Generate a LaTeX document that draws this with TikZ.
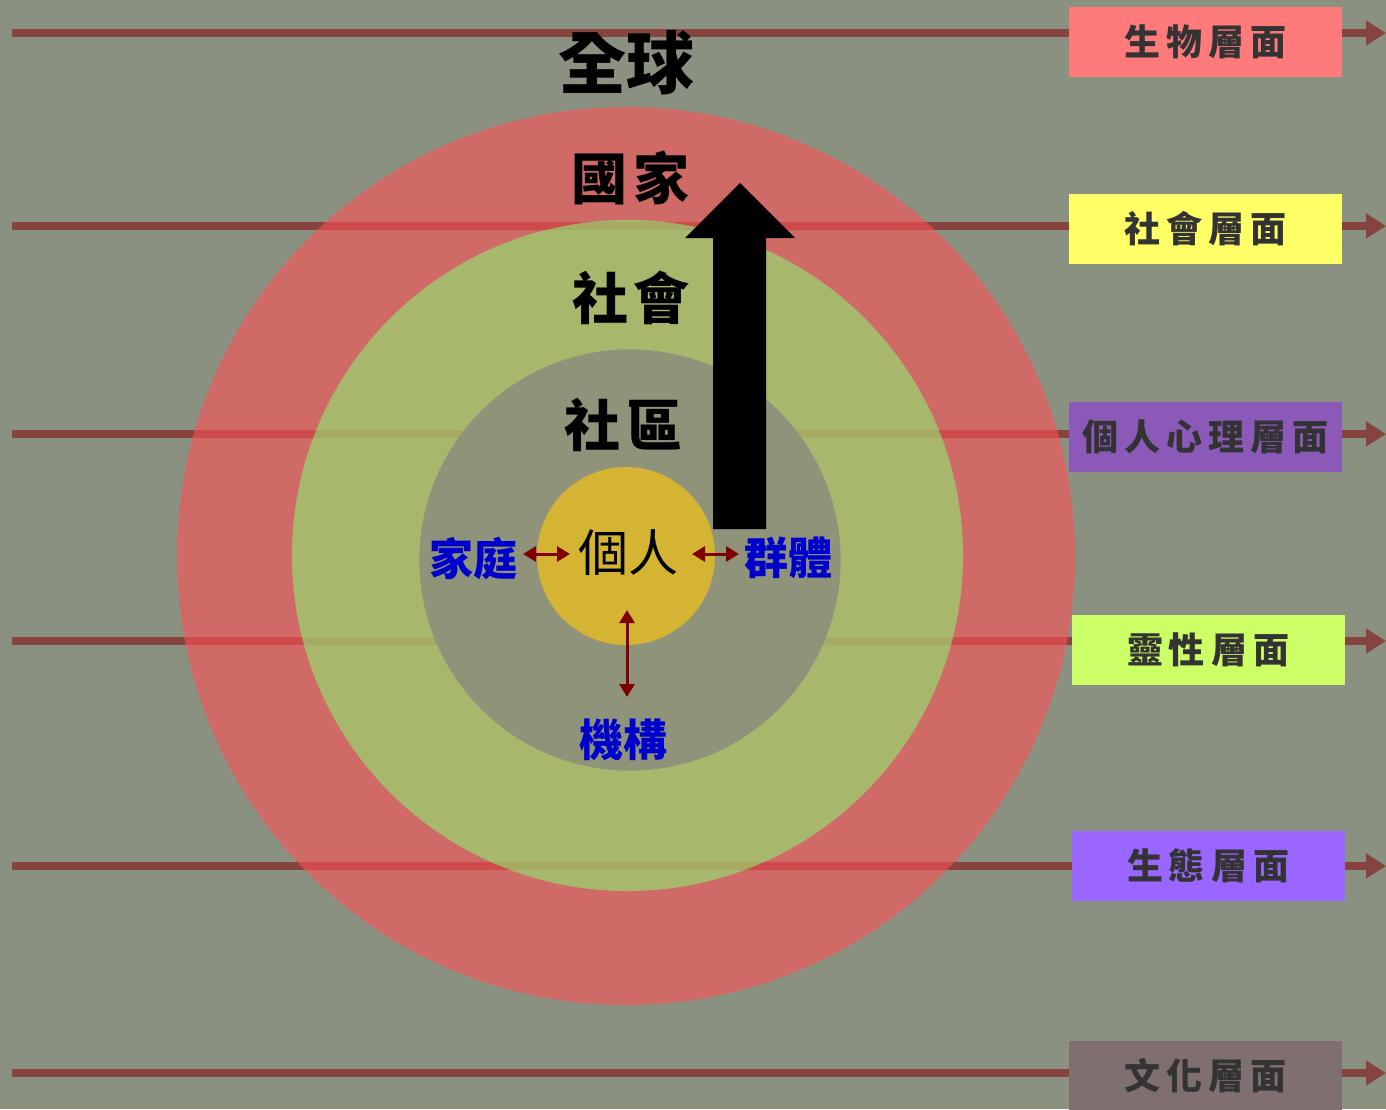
\documentclass[tikz,border=0pt]{standalone}
\usepackage{fontspec}
\newfontfamily\cjk{Noto Sans CJK TC}
\usetikzlibrary{arrows.meta}
\definecolor{bgc}{RGB}{139,145,128}
\definecolor{linec}{RGB}{135,68,62}
\definecolor{redc}{RGB}{255,80,85}
\definecolor{greenc}{RGB}{174,193,106}
\definecolor{grayc}{RGB}{142,147,121}
\definecolor{yellowc}{RGB}{212,180,50}
\definecolor{darkred}{RGB}{128,0,0}
\definecolor{bluec}{RGB}{0,0,204}
\definecolor{boxtext}{RGB}{51,51,51}
\definecolor{c1}{RGB}{255,123,123}
\definecolor{c2}{RGB}{255,255,102}
\definecolor{c3}{RGB}{139,89,184}
\definecolor{c4}{RGB}{204,255,102}
\definecolor{c5}{RGB}{153,102,255}
\definecolor{c6}{RGB}{127,111,111}
\tikzset{
  hline/.style={draw=linec, line width=8pt, -{Triangle[length=20pt,width=24pt]}},
  levelbox/.style={minimum width=273pt, minimum height=70pt, inner sep=0pt, text=boxtext, font=\cjk\bfseries\fontsize{36}{36}\selectfont},
  bigtitle/.style={inner sep=0pt, text=black, font=\cjk\bfseries\fontsize{56}{56}\selectfont},
  bluelabel/.style={inner sep=0pt, text=bluec, font=\cjk\bfseries\fontsize{44}{44}\selectfont},
  dbl/.style={draw=darkred, line width=3pt, {Triangle[length=13pt,width=15pt]}-{Triangle[length=13pt,width=15pt]}},
}
\newcommand{\gapc}{\hspace{6pt}}
\begin{document}
\begin{tikzpicture}[x=1pt,y=-1pt]
\useasboundingbox (0,0) rectangle (1386,1109);
\fill[bgc] (0,0) rectangle (1386,1109);
% horizontal lines
\foreach \i/\yy in {1/33,2/226,3/434,4/641,5/866,6/1073}{
  \coordinate (s\i) at (12,\yy);
  \coordinate (e\i) at (1386,\yy);
  \draw[hline] (s\i) -- (e\i);
}
% rings
\coordinate (ctr) at (626,556);
\fill[redc, opacity=0.6, even odd rule] (626,556) circle[radius=449] (627.5,555.5) circle[radius=335.5];
\fill[greenc, opacity=0.82, even odd rule] (627.5,555.5) circle[radius=335.5] (630,560) circle[radius=210.5];
\fill[grayc] (630,560) circle[radius=210.5];
\fill[yellowc] (626,556) circle[radius=89];
% big arrow
\fill[black] (713,529) -- (766,529) -- (766,238) -- (795,238) -- (740,183) -- (685,238) -- (713,238) -- cycle;
% titles
\node[bigtitle, font=\cjk\bfseries\fontsize{68}{68}\selectfont] (quanqiu) at (626,63) {全球};
\node[bigtitle] (guojia) at (630,178) {國\gapc 家};
\node[bigtitle] (shehui) at (631,298) {社\gapc 會};
\node[bigtitle] (shequ) at (623,425) {社\gapc 區};
\node[inner sep=0pt, text=black, font=\cjk\fontsize{50}{50}\selectfont] (geren) at (628,553) {個人};
\node[bluelabel] (jiating) at (473,558) {家庭};
\node[bluelabel] (qunti) at (788,558) {群體};
\node[bluelabel] (jigou) at (623,740) {機構};
% small arrows
\coordinate (a1) at (523,554);
\coordinate (a2) at (570,554);
\coordinate (a3) at (692,554);
\coordinate (a4) at (739,554);
\coordinate (a5) at (627,610);
\coordinate (a6) at (627,697);
\draw[dbl] (a1) -- (a2);
\draw[dbl] (a3) -- (a4);
\draw[dbl] (a5) -- (a6);
% level boxes
\node[levelbox, fill=c1] (b1) at (1205.5,42) {生\gapc 物\gapc 層\gapc 面};
\node[levelbox, fill=c2] (b2) at (1205.5,229) {社\gapc 會\gapc 層\gapc 面};
\node[levelbox, fill=c3] (b3) at (1205.5,437) {個\gapc 人\gapc 心\gapc 理\gapc 層\gapc 面};
\node[levelbox, fill=c4] (b4) at (1208,650) {靈\gapc 性\gapc 層\gapc 面};
\node[levelbox, fill=c5] (b5) at (1208,866) {生\gapc 態\gapc 層\gapc 面};
\node[levelbox, fill=c6] (b6) at (1205.5,1076) {文\gapc 化\gapc 層\gapc 面};
\end{tikzpicture}
\end{document}
